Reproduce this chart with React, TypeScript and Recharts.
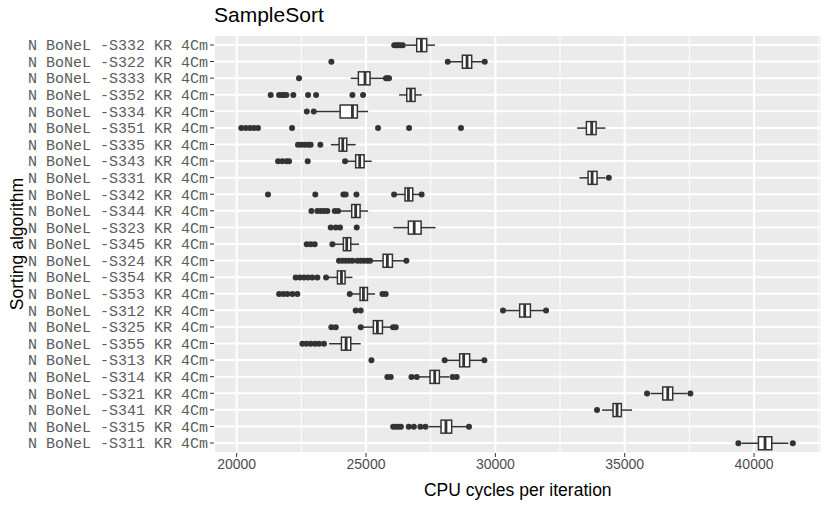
import { ComposedChart, Bar, XAxis, YAxis, CartesianGrid, Label } from "recharts"

const names = [
  "N BoNeL -S332 KR 4Cm", "N BoNeL -S322 KR 4Cm", "N BoNeL -S333 KR 4Cm", "N BoNeL -S352 KR 4Cm",
  "N BoNeL -S334 KR 4Cm", "N BoNeL -S351 KR 4Cm", "N BoNeL -S335 KR 4Cm", "N BoNeL -S343 KR 4Cm",
  "N BoNeL -S331 KR 4Cm", "N BoNeL -S342 KR 4Cm", "N BoNeL -S344 KR 4Cm", "N BoNeL -S323 KR 4Cm",
  "N BoNeL -S345 KR 4Cm", "N BoNeL -S324 KR 4Cm", "N BoNeL -S354 KR 4Cm", "N BoNeL -S353 KR 4Cm",
  "N BoNeL -S312 KR 4Cm", "N BoNeL -S325 KR 4Cm", "N BoNeL -S355 KR 4Cm", "N BoNeL -S313 KR 4Cm",
  "N BoNeL -S314 KR 4Cm", "N BoNeL -S321 KR 4Cm", "N BoNeL -S341 KR 4Cm", "N BoNeL -S315 KR 4Cm",
  "N BoNeL -S311 KR 4Cm",
]

// whisker ends, quartiles and medians
const whiskerLow = [26540, 28180, 24410, 26280, 23040, 33160, 23640, 24215, 33250, 26150, 24020, 26060, 23765, 25180, 23505, 24410, 30385, 24860, 23570, 28130, 27050, 35995, 34125, 27435, 39525]
const q1 = [26960, 28725, 24705, 26575, 24000, 33520, 23960, 24600, 33585, 26508, 24447, 26637, 24125, 25660, 23895, 24770, 30940, 25285, 24050, 28620, 27475, 36470, 34550, 27900, 40170]
const median = [27140, 28905, 24960, 26730, 24475, 33725, 24100, 24755, 33740, 26640, 24600, 26862, 24255, 25825, 24050, 24900, 31135, 25440, 24230, 28775, 27655, 36665, 34705, 28090, 40425]
const q3 = [27345, 29085, 25155, 26895, 24665, 33895, 24255, 24925, 33930, 26805, 24770, 27130, 24410, 26020, 24190, 25055, 31355, 25635, 24410, 29005, 27835, 36855, 34870, 28310, 40685]
const whiskerHigh = [27665, 29570, 25680, 27155, 25080, 34255, 24600, 25220, 34255, 27100, 25080, 27690, 24730, 26500, 24475, 25350, 31870, 25955, 24795, 29485, 28220, 37410, 35285, 28890, 41330]

const outliers = [
  [26090, 26170, 26250, 26330, 26420],
  [23660, 28160, 29590],
  [22410, 25770, 25830, 25890],
  [21315, 21640, 21740, 21830, 21920, 22190, 22760, 23070, 24475, 24885],
  [22710, 22980],
  [20180, 20350, 20515, 20670, 20825, 22140, 25465, 26665, 28670],
  [22370, 22500, 22630, 22760, 22860, 23235],
  [21600, 21765, 21930, 22025, 22745, 24190],
  [34385],
  [21210, 23040, 24125, 24215, 24630, 26085, 27150],
  [22890, 23120, 23250, 23380, 23505, 23790, 23920],
  [23635, 23830, 23995, 24640],
  [22705, 22860, 23015, 23700],
  [23955, 24085, 24215, 24345, 24475, 24665, 24795, 24925, 25055, 25155, 26560],
  [22280, 22450, 22605, 22760, 22925, 23120, 23455],
  [21640, 21805, 21960, 22155, 22345, 24370, 25635, 25760],
  [24600, 24795, 30295, 31960],
  [23660, 23830, 24795, 26045, 26150],
  [22540, 22695, 22860, 23030, 23185, 23375],
  [25210, 28040, 29575],
  [25825, 25955, 26755, 26960, 28350, 28505],
  [35865, 37540],
  [33930],
  [26050, 26150, 26250, 26350, 26650, 26850, 27100, 27300, 28980],
  [39395, 41500],
]

const majorTicks = [20000, 25000, 30000, 35000, 40000]
const minorTicks = [22500, 27500, 32500, 37500, 42500]

const rows = names.map((name, i) => ({
  name,
  lo: whiskerLow[i],
  q1: q1[i],
  med: median[i],
  q3: q3[i],
  hi: whiskerHigh[i],
  out: outliers[i],
}))

const INK = "#333333"

function BoxShape(props: any) {
  const { x, y, width, height, payload } = props
  const d = payload
  const k = width / (d.hi - d.lo)
  const px = (v: number) => x + (v - d.lo) * k
  const cy = y + height / 2
  return (
    <g>
      <line x1={px(d.lo)} x2={px(d.q1)} y1={cy} y2={cy} stroke={INK} strokeWidth={1.5} />
      <line x1={px(d.q3)} x2={px(d.hi)} y1={cy} y2={cy} stroke={INK} strokeWidth={1.5} />
      <rect x={px(d.q1)} y={y} width={px(d.q3) - px(d.q1)} height={height} fill="#fff" stroke={INK} strokeWidth={1.5} />
      <line x1={px(d.med)} x2={px(d.med)} y1={y} y2={y + height} stroke={INK} strokeWidth={2.8} />
      {d.out.map((v: number, j: number) => (
        <circle key={j} cx={px(v)} cy={cy} r={3} fill={INK} />
      ))}
    </g>
  )
}

export default function App() {
  return (
    <div style={{ position: "absolute", left: 0, top: 0, width: 830, height: 507, background: "#fff" }}>
      <div
        style={{
          position: "absolute",
          left: 214,
          top: 3,
          fontFamily: "Liberation Sans, Arial, sans-serif",
          fontSize: 21,
          color: "#000",
        }}
      >
        SampleSort
      </div>
      <ComposedChart
        width={830}
        height={507}
        data={rows}
        layout="vertical"
        margin={{ top: 35, right: 8.5, bottom: 0, left: 0 }}
      >
        <CartesianGrid xAxisId="minor" horizontal={false} fill="#EBEBEB" stroke="#fff" strokeWidth={1} />
        <CartesianGrid stroke="#fff" strokeWidth={2} />
        <XAxis
          xAxisId="minor"
          type="number"
          domain={[19123, 42608]}
          allowDataOverflow
          ticks={minorTicks}
          hide
        />
        <XAxis
          type="number"
          domain={[19123, 42608]}
          allowDataOverflow
          ticks={majorTicks}
          height={54}
          tickSize={4}
          tickMargin={2}
          axisLine={false}
          tickLine={{ stroke: INK }}
          tick={{ fontSize: 14, fill: "#4D4D4D", fontFamily: "Liberation Sans, Arial, sans-serif" }}
        >
          <Label
            value="CPU cycles per iteration"
            position="insideBottom"
            offset={11}
            style={{ fontSize: 17.5, fill: "#000", fontFamily: "Liberation Sans, Arial, sans-serif" }}
          />
        </XAxis>
        <YAxis
          type="category"
          dataKey="name"
          width={214}
          interval={0}
          padding={{ top: 1.66, bottom: 1.66 }}
          tickSize={4}
          tickMargin={2}
          axisLine={false}
          tickLine={{ stroke: INK }}
          tick={{ fontSize: 15, fill: "#5c5c5c", fontFamily: "Liberation Mono, Courier New, monospace" }}
          label={{
            content: (p: any) => {
              const vb = p.viewBox || {}
              const cx = 17
              const cy = (vb.y ?? 35) + (vb.height ?? 418) / 2
              return (
                <text
                  x={cx}
                  y={cy}
                  transform={`rotate(-90 ${cx} ${cy})`}
                  textAnchor="middle"
                  dominantBaseline="central"
                  style={{ fontSize: 17.5, fill: "#000", fontFamily: "Liberation Sans, Arial, sans-serif" }}
                >
                  Sorting algorithm
                </text>
              )
            },
          }}
        />
        <Bar
          dataKey={(d: any) => [d.lo, d.hi]}
          barSize={13}
          shape={<BoxShape />}
          isAnimationActive={false}
        />
      </ComposedChart>
    </div>
  )
}
